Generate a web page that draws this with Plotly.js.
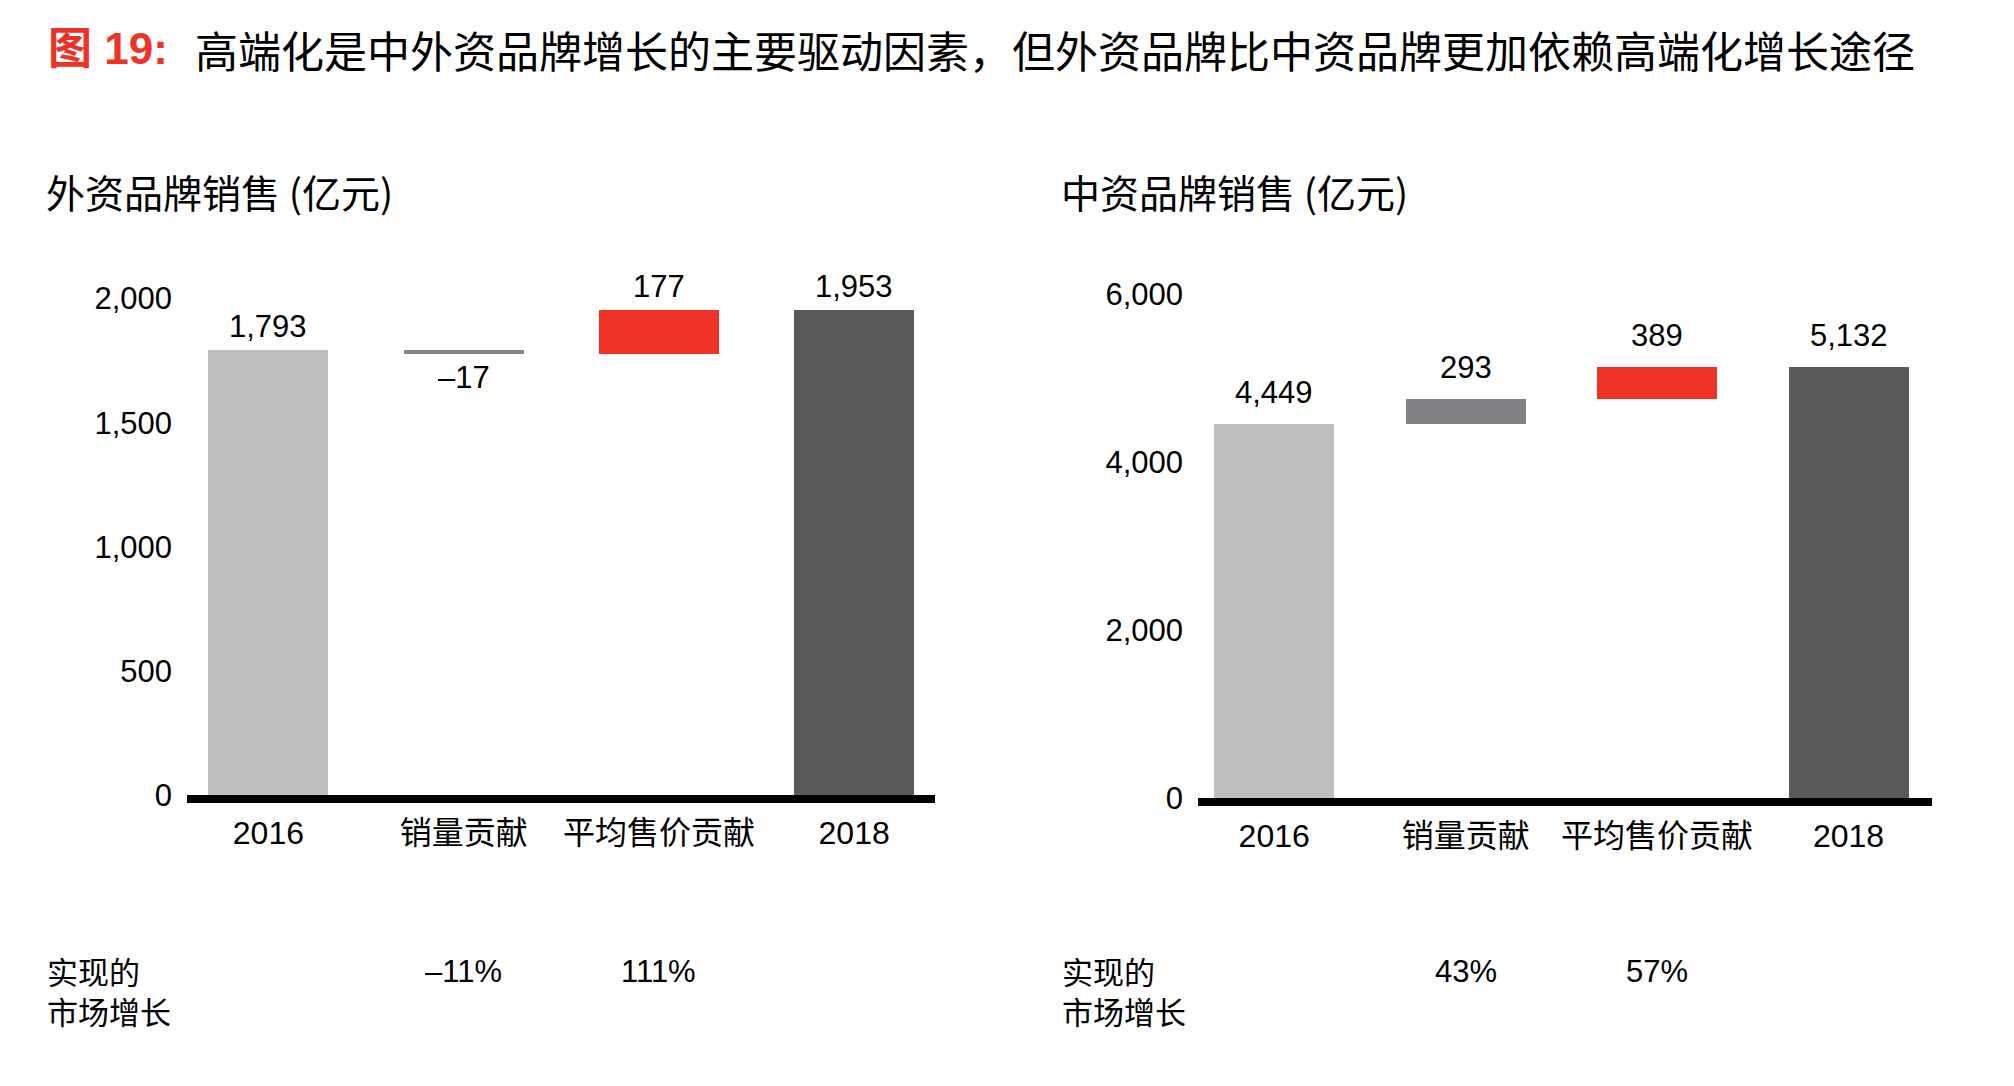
<!DOCTYPE html>
<html>
<head>
<meta charset="utf-8">
<script src="https://cdn.plot.ly/plotly-3.0.1.min.js"></script>
<style>
  html, body { margin: 0; padding: 0; background: #ffffff; }
  #chart { width: 2014px; height: 1086px; }
</style>
</head>
<body>
<div id="chart"></div>
<script>
// Categories shared by both waterfalls
const categories = ['2016', '销量贡献', '平均售价贡献', '2018'];
// Kind of each step: totals stand on zero, deltas float on the running sum
const stepKinds = ['total', 'delta', 'delta', 'total'];

// 外资品牌销售 (亿元)
const foreignSales = [1793, -17, 177, 1953];
// 中资品牌销售 (亿元)
const domesticSales = [4449, 293, 389, 5132];

// 实现的市场增长 (share of growth from volume / price)
const foreignGrowthShare = [-11, 111];
const domesticGrowthShare = [43, 57];

const leftTicks = [0, 500, 1000, 1500, 2000];
const rightTicks = [0, 2000, 4000, 6000];

const mainTitleLead = '图 19:';
const mainTitle = '高端化是中外资品牌增长的主要驱动因素，但外资品牌比中资品牌更加依赖高端化增长途径';
const leftTitle = '外资品牌销售 (亿元)';
const rightTitle = '中资品牌销售 (亿元)';
const growthLabel = ['实现的', '市场增长'];

// ---- styling ----
const W = 2014, H = 1086;
const FONT = '"Liberation Sans", Arial, "Noto Sans CJK SC", sans-serif';
const CJK = '"Noto Sans CJK SC", "Liberation Sans", sans-serif';
const RED = '#ef3226';
const stepColors = ['#bdbec0', '#818285', RED, '#58595b'];
const px = v => v / W;
const py = v => 1 - v / H;

function bases(values) {
  let run = 0;
  return values.map((v, i) => {
    if (stepKinds[i] === 'total') { run = v; return 0; }
    const b = run; run += v; return b;
  });
}

function fmt(v) {
  const s = Math.abs(v).toLocaleString('en-US');
  return v < 0 ? '\u2013' + s : s;
}

function barTrace(values, xa, ya, width) {
  return {
    type: 'bar',
    x: categories,
    y: values,
    base: bases(values),
    width: width,
    marker: { color: stepColors, line: { width: 0 } },
    xaxis: xa, yaxis: ya,
    hoverinfo: 'skip',
    cliponaxis: false,
    showlegend: false
  };
}

// value labels sit just beyond the end of each bar (category index as x)
function valueLabels(values, xa, ya, gap) {
  const b = bases(values);
  return values.map((v, i) => {
    const end = b[i] + v;
    const neg = v < 0;
    return {
      xref: xa, yref: ya, x: i, y: end,
      text: fmt(v), showarrow: false,
      xanchor: 'center', yanchor: neg ? 'top' : 'bottom',
      yshift: neg ? -gap : gap,
      font: { family: FONT, size: 31, color: '#000' }
    };
  });
}

function growthLabels(shares, xa, yPx) {
  return shares.map((s, i) => ({
    xref: xa, yref: 'paper', x: i + 1, y: py(yPx),
    text: fmt(s) + '%', showarrow: false, xanchor: 'center', yanchor: 'middle',
    font: { family: FONT, size: 31, color: '#000' }
  }));
}

function textNote(text, xPx, yPx, size, color, bold, family) {
  return {
    xref: 'paper', yref: 'paper', x: px(xPx), y: py(yPx),
    text: bold ? '<b>' + text + '</b>' : text,
    showarrow: false, xanchor: 'left', yanchor: 'middle', align: 'left',
    font: { family: family || CJK, size: size, color: color || '#000' }
  };
}

const xCommon = {
  type: 'category', showline: true, linecolor: '#000', linewidth: 8,
  ticks: '', showgrid: false, zeroline: false, fixedrange: true,
  ticklabelstandoff: 3,
  tickfont: { family: FONT, size: 32, color: '#000' }
};
const yCommon = {
  showline: false, showgrid: false, zeroline: false, ticks: '',
  tickformat: ',d', fixedrange: true, ticklabelstandoff: 14,
  tickfont: { family: FONT, size: 31, color: '#000' }
};

const layout = {
  width: W, height: H,
  margin: { l: 0, r: 0, t: 0, b: 0, pad: 0 },
  paper_bgcolor: '#ffffff', plot_bgcolor: 'rgba(0,0,0,0)',
  font: { family: FONT, color: '#000' },
  bargap: 0,
  xaxis: Object.assign({}, xCommon, {
    domain: [px(187), px(935)], range: [-0.417, 3.414], anchor: 'y'
  }),
  yaxis: Object.assign({}, yCommon, {
    domain: [py(795), py(795 - 2100 * 0.2482)], range: [0, 2100],
    tickvals: leftTicks, anchor: 'x'
  }),
  xaxis2: Object.assign({}, xCommon, {
    domain: [px(1198), px(1932)], range: [-0.398, 3.436], anchor: 'y2'
  }),
  yaxis2: Object.assign({}, yCommon, {
    domain: [py(798), py(798 - 6250 * 0.08406)], range: [0, 6250],
    tickvals: rightTicks, anchor: 'x2'
  }),
  annotations: [].concat(
    [
      textNote(mainTitleLead, 46, 48, 44, RED, true, FONT),
      textNote(mainTitle, 193, 49, 43, '#000', false),
      textNote(leftTitle, 44, 191, 39),
      textNote(rightTitle, 1059, 191, 39),
      textNote(growthLabel.join('<br>'), 45, 990, 31),
      textNote(growthLabel.join('<br>'), 1060, 990, 31)
    ],
    valueLabels(foreignSales, 'x', 'y', 4),
    valueLabels(domesticSales, 'x2', 'y2', 12),
    growthLabels(foreignGrowthShare, 'x', 971),
    growthLabels(domesticGrowthShare, 'x2', 971)
  )
};

const data = [
  barTrace(foreignSales, 'x', 'y', 0.615),
  barTrace(domesticSales, 'x2', 'y2', 0.627)
];

Plotly.newPlot('chart', data, layout, { displayModeBar: false, staticPlot: true });
</script>
</body>
</html>
